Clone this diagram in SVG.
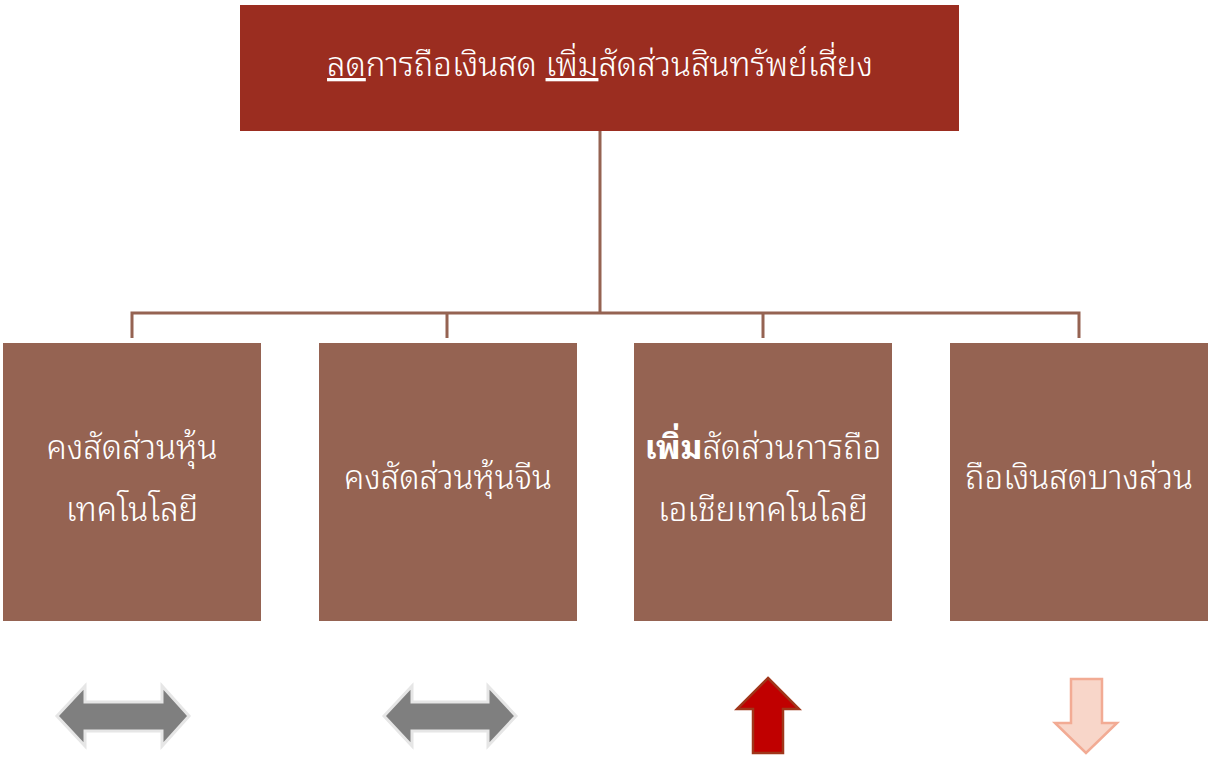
<svg xmlns="http://www.w3.org/2000/svg" width="1209" height="758" viewBox="0 0 1209 758">
<style>
text{font-family:"Noto Sans Thai Looped","Noto Sans Thai","Loma","Garuda","Noto Sans","DejaVu Sans",sans-serif;fill:#ffffff;font-size:33px;text-anchor:middle;font-weight:300}
.b{fill:#956352}
.c{stroke:#956352;stroke-width:3;fill:none}
.dbl{fill:#7f7f7f;stroke:#e6e6e6;stroke-width:3;stroke-linejoin:miter}
</style>
<rect width="1209" height="758" fill="#ffffff"/>
<g id="connectors">
<path class="c" d="M600 131V313M132 338V313H1079V338M447 313V338M763 313V338"/>
</g>
<g id="top">
<rect x="240" y="5" width="719" height="126" fill="#9b2d20"/>
<text x="600" y="76"><tspan text-decoration="underline">ลด</tspan>การถือเงินสด <tspan text-decoration="underline">เพิ่ม</tspan>สัดส่วนสินทรัพย์เสี่ยง</text>
</g>
<g id="n1">
<rect class="b" x="3" y="343" width="258" height="278"/>
<text x="132" y="459">คงสัดส่วนหุ้น</text>
<text x="132" y="521">เทคโนโลยี</text>
</g>
<g id="n2">
<rect class="b" x="319" y="343" width="258" height="278"/>
<text x="448" y="489">คงสัดส่วนหุ้นจีน</text>
</g>
<g id="n3">
<rect class="b" x="634" y="343" width="258" height="278"/>
<text x="763" y="459"><tspan font-weight="bold">เพิ่ม</tspan>สัดส่วนการถือ</text>
<text x="763" y="521">เอเชียเทคโนโลยี</text>
</g>
<g id="n4">
<rect class="b" x="950" y="343" width="258" height="278"/>
<text x="1079" y="489">ถือเงินสดบางส่วน</text>
</g>
<g id="a1">
<polygon class="dbl" points="57,716 85,686 85,702 162,702 162,686 189,716 162,746 162,731 85,731 85,746"/>
</g>
<g id="a2">
<polygon class="dbl" points="384,716 412,686 412,702 488,702 488,686 516,716 488,746 488,731 412,731 412,746"/>
</g>
<g id="a3">
<polygon points="768,678 799,709 783,709 783,753 753,753 753,709 737,709" fill="#c00000" stroke="#a0361a" stroke-width="2.5"/>
</g>
<g id="a4">
<polygon points="1071,679 1102,679 1102,723 1117,723 1086,753 1055,723 1071,723" fill="#f8d6c9" stroke="#f2ab94" stroke-width="2.5"/>
</g>
</svg>
